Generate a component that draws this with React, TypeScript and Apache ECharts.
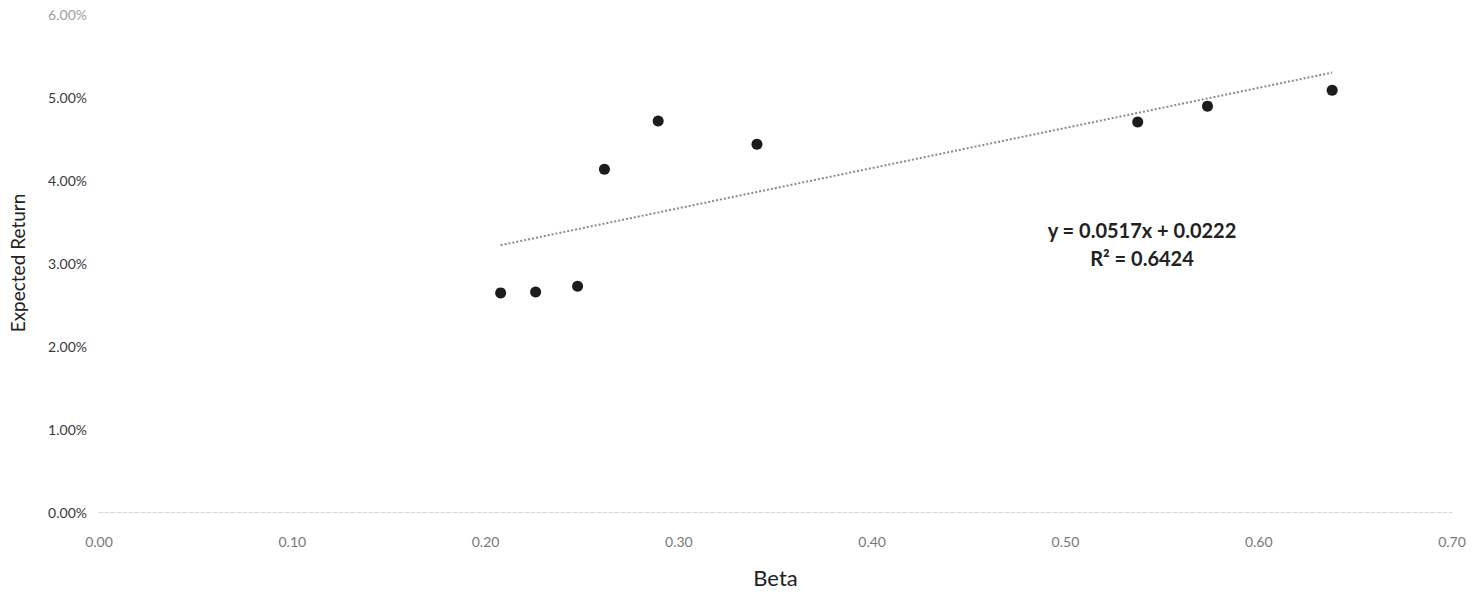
import React, { useEffect, useRef } from "react";
import * as echarts from "echarts";

const betas = [0.2078, 0.2259, 0.2476, 0.2615, 0.2893, 0.3404, 0.5374, 0.5735, 0.638];
const expectedReturns = [0.0264, 0.0265, 0.0272, 0.0413, 0.0471, 0.0443, 0.047, 0.0489, 0.0508];
const equationText = "y = 0.0517x + 0.0222";
const r2Text = "R² = 0.6424";
const xAxisName = "Beta";
const yAxisName = "Expected Return";

function linearFit(xs: number[], ys: number[]) {
  const n = xs.length;
  const mx = xs.reduce((a, b) => a + b, 0) / n;
  const my = ys.reduce((a, b) => a + b, 0) / n;
  let sxy = 0;
  let sxx = 0;
  for (let i = 0; i < n; i++) {
    sxy += (xs[i] - mx) * (ys[i] - my);
    sxx += (xs[i] - mx) * (xs[i] - mx);
  }
  const slope = sxy / sxx;
  return { slope, intercept: my - slope * mx };
}

export default function App() {
  const ref = useRef<HTMLDivElement>(null);
  useEffect(() => {
    if (!ref.current) return;
    const chart = echarts.init(ref.current, undefined, { renderer: "svg" });
    const fit = linearFit(betas, expectedReturns);
    const xMin = Math.min(...betas);
    const xMax = Math.max(...betas);
    const trend = [
      [xMin, fit.slope * xMin + fit.intercept],
      [xMax, fit.slope * xMax + fit.intercept],
    ];
    const font = "Lato, 'Open Sans', sans-serif";
    chart.setOption({
      animation: false,
      backgroundColor: "#ffffff",
      grid: { left: 95, right: 27, top: 14, bottom: 85 },
      xAxis: {
        type: "value",
        min: 0,
        max: 0.7,
        interval: 0.1,
        name: xAxisName,
        nameLocation: "middle",
        nameGap: 54,
        nameTextStyle: { fontFamily: font, fontSize: 22, color: "#222" },
        axisLine: { show: true, lineStyle: { color: "#d8d8d8", type: "dashed", width: 1 } },
        axisTick: { show: false },
        splitLine: { show: false },
        axisLabel: {
          margin: 22,
          fontFamily: font,
          fontSize: 14,
          color: "#777",
          formatter: (v: number) => v.toFixed(2),
        },
      },
      yAxis: {
        type: "value",
        min: 0,
        max: 0.06,
        interval: 0.01,
        name: yAxisName,
        nameLocation: "middle",
        nameGap: 72,
        nameTextStyle: { fontFamily: font, fontSize: 19, color: "#222" },
        axisLine: { show: false },
        axisTick: { show: false },
        splitLine: { show: false },
        axisLabel: {
          margin: 12,
          fontFamily: font,
          fontSize: 14,
          color: (v: any) => (Number(v) >= 0.059 ? "#a0a0a0" : "#3a3a3a"),
          formatter: (v: number) => (v * 100).toFixed(2) + "%",
        },
      },
      series: [
        {
          type: "line",
          data: trend,
          symbol: "none",
          silent: true,
          lineStyle: { color: "#8a8a8a", width: 2, type: "dotted" },
          z: 1,
        },
        {
          type: "scatter",
          data: betas.map((b, i) => [b, expectedReturns[i]]),
          symbol: "circle",
          symbolSize: 11,
          itemStyle: { color: "#1c1c1c", opacity: 1 },
          z: 2,
        },
      ],
      graphic: [
        {
          type: "text",
          x: 1142,
          y: 230,
          style: {
            text: equationText,
            font: "bold 20px " + font,
            fill: "#222",
            textAlign: "center",
            textVerticalAlign: "middle",
          },
        },
        {
          type: "text",
          x: 1142,
          y: 258,
          style: {
            text: r2Text,
            font: "bold 20px " + font,
            fill: "#222",
            textAlign: "center",
            textVerticalAlign: "middle",
          },
        },
      ],
    });
    return () => chart.dispose();
  }, []);
  return (
    <div
      ref={ref}
      style={{ position: "absolute", left: 0, top: 0, width: 1479, height: 597 }}
    />
  );
}
